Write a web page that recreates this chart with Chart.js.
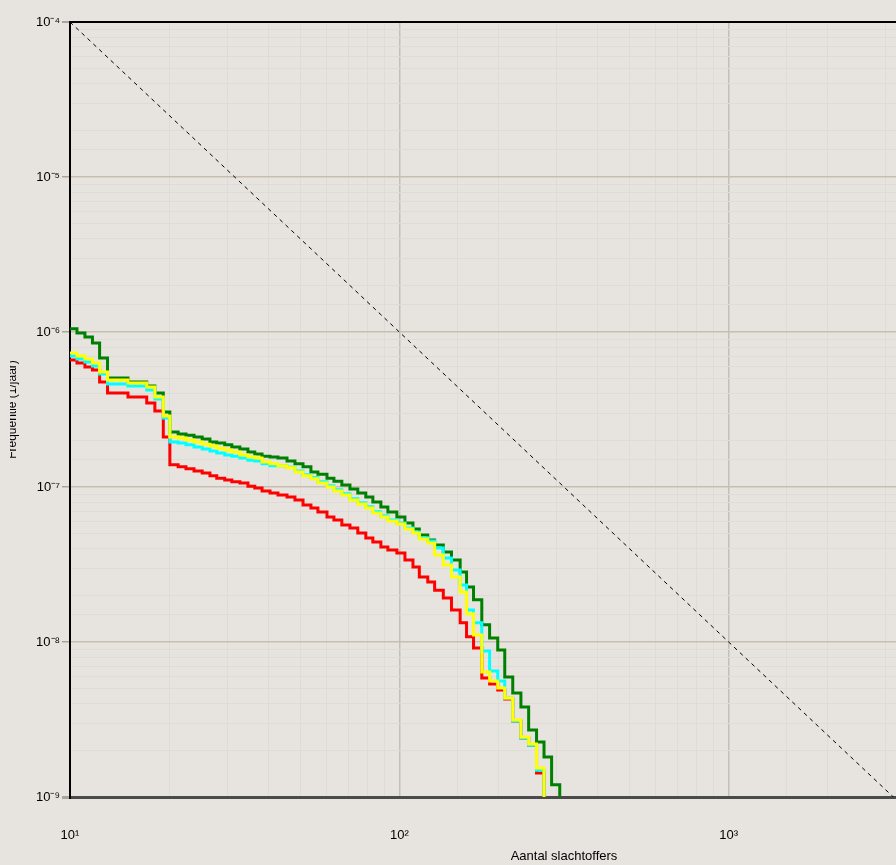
<!DOCTYPE html>
<html>
<head>
<meta charset="utf-8">
<title>FN-curve</title>
<script src="https://cdn.jsdelivr.net/npm/chart.js@4"></script>
<style>
    html, body { margin: 0; padding: 0; width: 896px; height: 865px; overflow: hidden; background: #e7e4df; }
    /* the original plot runs on past the right edge and the y title is cut off at the left */
    #clip { position: absolute; left: 10px; top: 0; width: 886px; height: 865px; overflow: hidden; }
    #fnChart { position: absolute; left: -10px; top: 0; }
</style>
</head>
<body>
<div id="clip"><canvas id="fnChart" width="1099" height="865"></canvas></div>
<script>
// Step positions (number of victims) shared by all curves
const stepN = [10, 10.5, 11.1, 11.7, 12.3, 13, 15, 17.1, 18.1, 19.2,
    20.1, 21.3, 22.5, 23.8, 25.2, 26.6, 27.9, 29.5, 31, 32.8,
    34.7, 36.4, 38.3, 40.5, 42.8, 45.6, 48.2, 51, 53.9, 56.6,
    60.3, 63.3, 66.9, 70.8, 74.8, 79.1, 83.1, 87.9, 92.3, 98.3,
    104, 110, 115, 122, 128, 136, 144, 153, 160, 168,
    178, 188, 199, 209, 221, 234, 247, 261, 275, 290, 307];

// Frequency (1/jaar) per step, one list per curve
const green = [1.05e-6, 9.85e-7, 9.28e-7, 8.49e-7, 6.80e-7, 5.05e-7, 4.76e-7, 4.48e-7, 4.04e-7, 3.05e-7,
    2.26e-7, 2.20e-7, 2.16e-7, 2.10e-7, 2.04e-7, 1.95e-7, 1.92e-7, 1.87e-7, 1.81e-7, 1.76e-7,
    1.68e-7, 1.63e-7, 1.58e-7, 1.56e-7, 1.54e-7, 1.47e-7, 1.41e-7, 1.35e-7, 1.25e-7, 1.21e-7,
    1.14e-7, 1.09e-7, 1.03e-7, 9.71e-8, 9.15e-8, 8.62e-8, 8.00e-8, 7.43e-8, 6.90e-8, 6.40e-8,
    5.86e-8, 5.36e-8, 4.90e-8, 4.55e-8, 4.22e-8, 3.81e-8, 3.38e-8, 2.83e-8, 2.26e-8, 1.87e-8,
    1.29e-8, 1.06e-8, 8.88e-9, 5.95e-9, 4.69e-9, 3.81e-9, 2.71e-9, 2.26e-9, 1.81e-9, 1.20e-9, 5e-10];

const red = [6.60e-7, 6.31e-7, 5.95e-7, 5.69e-7, 4.76e-7, 4.04e-7, 3.81e-7, 3.48e-7, 3.09e-7, 2.10e-7,
    1.39e-7, 1.35e-7, 1.31e-7, 1.27e-7, 1.23e-7, 1.18e-7, 1.14e-7, 1.11e-7, 1.08e-7, 1.06e-7,
    1.01e-7, 9.85e-8, 9.42e-8, 9.15e-8, 8.88e-8, 8.62e-8, 8.24e-8, 7.65e-8, 7.32e-8, 6.90e-8,
    6.40e-8, 6.12e-8, 5.69e-8, 5.44e-8, 5.05e-8, 4.69e-8, 4.42e-8, 4.10e-8, 3.92e-8, 3.75e-8,
    3.38e-8, 3.05e-8, 2.63e-8, 2.44e-8, 2.16e-8, 1.92e-8, 1.61e-8, 1.33e-8, 1.08e-8, 9.15e-9,
    5.86e-9, 5.36e-9, 4.90e-9, 4.29e-9, 3.09e-9, 2.40e-9, 2.16e-9, 1.43e-9, 5e-10];

const cyan = [7.00e-7, 6.70e-7, 6.40e-7, 6.03e-7, 5.36e-7, 4.62e-7, 4.48e-7, 4.22e-7, 3.70e-7, 2.79e-7,
    1.95e-7, 1.92e-7, 1.87e-7, 1.81e-7, 1.76e-7, 1.71e-7, 1.66e-7, 1.61e-7, 1.58e-7, 1.54e-7,
    1.49e-7, 1.47e-7, 1.41e-7, 1.37e-7, 1.37e-7, 1.34e-7, 1.27e-7, 1.20e-7, 1.15e-7, 1.08e-7,
    1.02e-7, 9.60e-8, 9.05e-8, 8.40e-8, 7.90e-8, 7.45e-8, 6.92e-8, 6.52e-8, 6.13e-8, 5.86e-8,
    5.44e-8, 5.13e-8, 4.70e-8, 4.48e-8, 4.04e-8, 3.48e-8, 2.91e-8, 2.33e-8, 1.61e-8, 1.33e-8,
    8.75e-9, 6.50e-9, 5.60e-9, 4.35e-9, 3.09e-9, 2.40e-9, 2.16e-9, 1.49e-9, 5e-10];

const yellow = [7.32e-7, 7.00e-7, 6.70e-7, 6.31e-7, 5.52e-7, 4.90e-7, 4.69e-7, 4.42e-7, 3.81e-7, 2.87e-7,
    2.10e-7, 2.07e-7, 2.01e-7, 1.95e-7, 1.89e-7, 1.84e-7, 1.78e-7, 1.73e-7, 1.68e-7, 1.61e-7,
    1.56e-7, 1.54e-7, 1.45e-7, 1.41e-7, 1.37e-7, 1.33e-7, 1.25e-7, 1.18e-7, 1.13e-7, 1.06e-7,
    1.00e-7, 9.42e-8, 8.88e-8, 8.24e-8, 7.77e-8, 7.32e-8, 6.80e-8, 6.40e-8, 6.03e-8, 5.77e-8,
    5.36e-8, 5.05e-8, 4.62e-8, 4.35e-8, 3.64e-8, 3.14e-8, 2.63e-8, 2.10e-8, 1.52e-8, 1.11e-8,
    6.40e-9, 5.60e-9, 5.05e-9, 4.35e-9, 3.14e-9, 2.44e-9, 2.20e-9, 1.54e-9, 5e-10];

// Guide line (dashed)
const dashN = [10, 10000];
const dashF = [1e-4, 1e-10];

const FONT = 'Liberation Sans, Arial, sans-serif';
const SUP = { '-': '\u207B', '0': '\u2070', '1': '\u00B9', '2': '\u00B2', '3': '\u00B3',
    '4': '\u2074', '5': '\u2075', '6': '\u2076', '7': '\u2077', '8': '\u2078', '9': '\u2079' };

function expOf(v) { return Math.round(Math.log10(v)); }
function isDecade(v) { return Math.abs(Math.log10(v) - expOf(v)) < 1e-6; }

function decadeLabel(v) {
    if (!isDecade(v)) return '';
    return '10' + String(expOf(v)).split('').map(c => SUP[c]).join('');
}

function stepLine(values, color) {
    return {
        data: values.map((y, i) => ({ x: stepN[i], y })),
        borderColor: color,
        borderWidth: 3,
        stepped: true,
        pointRadius: 0,
        fill: false,
        borderJoinStyle: 'miter',
        borderCapStyle: 'butt'
    };
}

new Chart(document.getElementById('fnChart'), {
    type: 'line',
    data: {
        // first dataset is drawn on top
        datasets: [
            stepLine(yellow, '#ffff00'),
            stepLine(cyan, '#00ffff'),
            stepLine(red, '#ff0000'),
            stepLine(green, '#008000'),
            {
                data: dashN.map((x, i) => ({ x, y: dashF[i] })),
                borderColor: '#000',
                borderWidth: 1,
                borderDash: [4, 4],
                pointRadius: 0,
                fill: false
            }
        ]
    },
    options: {
        responsive: false,
        animation: false,
        layout: { padding: { top: 22, right: 11.5, left: 0, bottom: 0 } },
        plugins: { legend: { display: false }, tooltip: { enabled: false } },
        scales: {
            x: {
                type: 'logarithmic',
                min: 10,
                max: 10000,
                afterFit: s => { s.height = 68; },
                border: { color: '#4a4a4a', width: 3 },
                grid: {
                    color: c => isDecade(c.tick.value) ? '#c3bfba' : '#dfdcd7',
                    lineWidth: c => isDecade(c.tick.value) ? 1.5 : 1,
                    drawTicks: false
                },
                ticks: {
                    callback: decadeLabel,
                    autoSkip: false,
                    maxRotation: 0,
                    padding: 31,
                    color: '#000',
                    font: { size: 13, family: FONT }
                },
                title: {
                    display: true,
                    text: 'Aantal slachtoffers',
                    color: '#000',
                    font: { size: 13, family: FONT },
                    padding: { top: 0, bottom: 1 }
                }
            },
            y: {
                type: 'logarithmic',
                min: 1e-9,
                max: 1e-4,
                afterFit: s => { s.width = 70; },
                border: { color: '#000', width: 2 },
                grid: {
                    color: c => {
                        const v = c.tick.value;
                        if (!isDecade(v)) return '#dfdcd7';
                        if (expOf(v) === -4) return '#000';
                        if (expOf(v) === -9) return '#4a4a4a';
                        return '#c7bdb2';
                    },
                    lineWidth: c => {
                        const v = c.tick.value;
                        if (!isDecade(v)) return 1;
                        if (expOf(v) === -4) return 2;
                        if (expOf(v) === -9) return 3;
                        return 1.5;
                    },
                    tickLength: 8,
                    tickColor: c => isDecade(c.tick.value) ? '#aaa49d' : 'rgba(0,0,0,0)'
                },
                ticks: {
                    callback: decadeLabel,
                    autoSkip: false,
                    padding: 2,
                    color: '#000',
                    font: { size: 13, family: FONT }
                },
                title: {
                    display: true,
                    text: 'Frequentie (1/jaar)',
                    color: '#000',
                    font: { size: 12, family: FONT },
                    padding: { top: 5, bottom: 0 }
                }
            }
        }
    }
});
</script>
</body>
</html>
